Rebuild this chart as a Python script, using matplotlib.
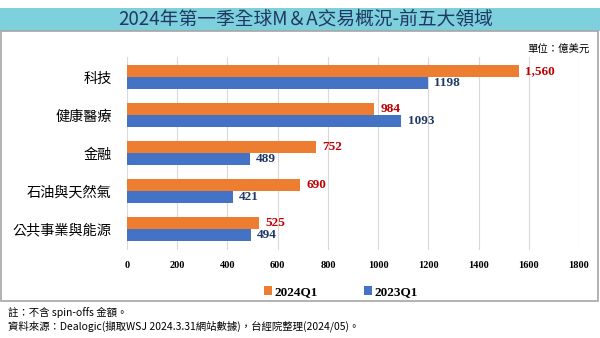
import matplotlib
matplotlib.use("Agg")
import matplotlib.pyplot as plt
from matplotlib.patches import Rectangle
import numpy as np

plt.rcParams['font.family'] = ['Noto Sans CJK TC', 'DejaVu Sans']

# data
categories = ["科技", "健康醫療", "金融", "石油與天然氣", "公共事業與能源"]
q1_2024 = [1560, 984, 752, 690, 525]
q1_2023 = [1198, 1093, 489, 421, 494]
labels_2024 = ["1,560", "984", "752", "690", "525"]
labels_2023 = ["1198", "1093", "489", "421", "494"]
xticks = [0, 200, 400, 600, 800, 1000, 1200, 1400, 1600, 1800]

orange = "#ed7d31"
blue = "#4472c4"
serif = {'family': 'Liberation Serif', 'weight': 'bold'}

fig = plt.figure(figsize=(6, 3.38), dpi=100)
W, H = 600, 338

# title banner
fig.patches.append(Rectangle((0, 1 - 31 / H), 1, 23 / H, transform=fig.transFigure,
                             facecolor="#7dd0dc", edgecolor="none", zorder=0))
fig.text(0.51, 1 - 19 / H, "2024年第一季全球M＆A交易概況-前五大領域",
         ha="center", va="center", fontsize=13.5, color="#1f3864", weight="medium")
# outer frame
fig.patches.append(Rectangle((1 / W, 1 - 301 / H), 597 / W, 270 / H, transform=fig.transFigure,
                             facecolor="none", edgecolor="#a6a6a6", linewidth=1.2, zorder=0))
fig.text(590 / W, 1 - 50 / H, "單位：億美元", ha="right", va="center", fontsize=7.5,
         weight="medium")

ax = fig.add_axes([127 / W, 1 - 250 / H, 452 / W, 193 / H])
y = np.arange(len(categories))
h = 0.32
ax.barh(y - h / 2, q1_2024, height=h, color=orange, label="2024Q1", zorder=2)
ax.barh(y + h / 2, q1_2023, height=h, color=blue, label="2023Q1", zorder=2)

for i in range(len(categories)):
    ax.text(q1_2024[i] + 25, y[i] - h / 2, labels_2024[i], va="center", ha="left",
            color="#c00000", fontsize=9.5, fontdict=serif)
    ax.text(q1_2023[i] + 25, y[i] + h / 2, labels_2023[i], va="center", ha="left",
            color="#1f3864", fontsize=9.5, fontdict=serif)

ax.set_xlim(0, 1800)
ax.set_ylim(4.55, -0.53)
ax.set_xticks(xticks)
ax.set_xticklabels([str(t) for t in xticks], fontdict=serif, fontsize=7.5)
ax.set_yticks(y)
ax.set_yticklabels(categories, fontsize=10.2)
ax.tick_params(axis="both", length=0)
ax.tick_params(axis="x", pad=8)
ax.tick_params(axis="y", pad=11)
ax.grid(axis="x", color="#d9d9d9", linewidth=0.8, zorder=0)
for s in ax.spines.values():
    s.set_visible(False)

handles, lbls = ax.get_legend_handles_labels()
fig.legend(handles, lbls, loc="center", bbox_to_anchor=(341 / W, 1 - 292 / H), ncol=2,
           frameon=False, prop={'family': 'Liberation Serif', 'weight': 'bold', 'size': 9.5},
           handlelength=0.6, handleheight=0.6, handletextpad=0.2, columnspacing=3.5)

fig.text(8 / W, 1 - 313 / H, "註：不含 spin-offs 金額。", ha="left", va="center", fontsize=7.5)
fig.text(8 / W, 1 - 326 / H, "資料來源：Dealogic(擷取WSJ 2024.3.31網站數據)，台經院整理(2024/05)。",
         ha="left", va="center", fontsize=7.5)

fig.savefig("out.png", dpi=100)
